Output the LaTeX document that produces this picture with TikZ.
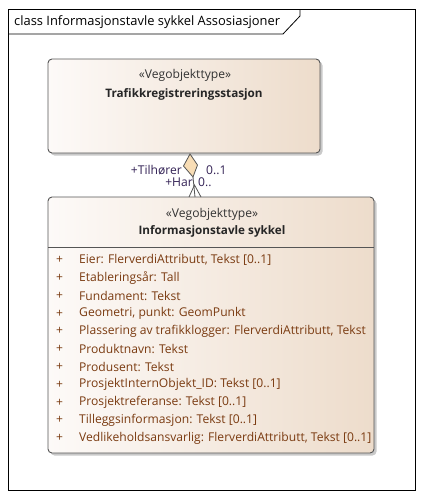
\documentclass[tikz,border=0pt]{standalone}
\usepackage{fontspec}
\setmainfont{Open Sans}
\usetikzlibrary{shadows}
\definecolor{boxR}{HTML}{EDDCCB}
\definecolor{boxL}{HTML}{FDFAF8}
\definecolor{attr}{HTML}{7A3A10}
\definecolor{lbl}{HTML}{332255}
\definecolor{edge}{HTML}{555555}
\definecolor{dia}{HTML}{F8DDB5}
\tikzset{
  classbox/.style={draw=edge, line width=0.9pt, rounded corners=4pt, left color=boxL, right color=boxR,
    drop shadow={shadow xshift=2.5pt, shadow yshift=-2.5pt, fill=black!35, opacity=0.6}},
  txt/.style={inner sep=0pt, font=\fontsize{12.1}{14}\selectfont},
  bold/.style={inner sep=0pt, font=\fontsize{11.7}{14}\selectfont\bfseries, text=black!85},
  attrtxt/.style={txt, anchor=west, text=attr},
  lbltxt/.style={txt, text=lbl},
}
\begin{document}
\begin{tikzpicture}[x=1pt,y=-1pt]
\useasboundingbox (0,0) rectangle (423,498);
\fill[white] (0,0) rectangle (423,498);
% frame
\draw[black, line width=0.9pt] (8,9) rectangle (415,490);
\draw[black, line width=0.8pt] (8,34) -- (283,34) -- (300,16) -- (300,9);
\node[txt, anchor=west, font=\fontsize{12.9}{15}\selectfont] (title) at (14,22) {class Informasjonstavle sykkel Assosiasjoner};
% top class
\path[classbox] (48,59) rectangle (320,153);
\coordinate (topbox) at (190,153);
\node[txt, text=black!80] (st1) at (185,75) {«Vegobjekttype»};
\node[bold] (n1) at (184,94) {Trafikkregistreringsstasjon};
% bottom class
\path[classbox] (48,197) rectangle (374,453);
\draw[edge, line width=0.8pt] (48,247) -- (374,247);
\coordinate (botbox) at (195,197);
\node[txt, text=black!80] (st2) at (212,214) {«Vegobjekttype»};
\node[bold] (n2) at (212,231) {Informasjonstavle sykkel};
\foreach \i/\t in {0/{Eier: FlerverdiAttributt, Tekst [0..1]},
  1/{Etableringsår: Tall},
  2/{Fundament: Tekst},
  3/{Geometri, punkt: GeomPunkt},
  4/{Plassering av trafikklogger: FlerverdiAttributt, Tekst},
  5/{Produktnavn: Tekst},
  6/{Produsent: Tekst},
  7/{ProsjektInternObjekt\_ID: Tekst [0..1]},
  8/{Prosjektreferanse: Tekst [0..1]},
  9/{Tilleggsinformasjon: Tekst [0..1]},
  10/{Vedlikeholdsansvarlig: FlerverdiAttributt, Tekst [0..1]}} {
  \node[attrtxt] (p\i) at (56,260+17.8*\i) {+};
  \node[attrtxt] (a\i) at (79,260+17.8*\i) {\t};
}
% connector
\coordinate (dt) at (190,154);
\coordinate (dl) at (183.5,166);
\coordinate (db) at (193,177);
\coordinate (dr) at (197.5,165);
\coordinate (ah) at (194.5,185);
\draw[edge, line width=0.8pt, fill=dia] (dt) -- (dl) -- (db) -- (dr) -- cycle;
\draw[edge, line width=0.8pt] (db) -- (botbox);
\draw[edge, line width=0.8pt] (189,197) -- (ah) -- (201,197);
\node[lbltxt, anchor=east] (l1) at (182,170) {+Tilhører};
\node[lbltxt, anchor=west] (m1) at (206,170) {0..1};
\node[lbltxt, anchor=east] (l2) at (193,182) {+Har};
\node[lbltxt, anchor=west] (m2) at (198,182) {0..};
\end{tikzpicture}
\end{document}
